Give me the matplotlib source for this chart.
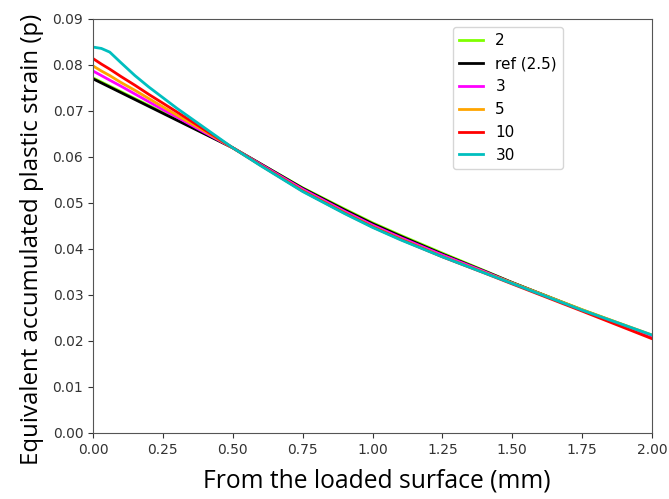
import matplotlib
matplotlib.use("Agg")
import matplotlib.pyplot as plt

x = [0.0, 0.03, 0.06, 0.1, 0.15, 0.2, 0.25, 0.3, 0.4, 0.5,
     0.6, 0.75, 0.9, 1.0, 1.1, 1.25, 1.4, 1.5, 1.75, 2.0]

s_2   = [0.0772, 0.0763, 0.0754, 0.0742, 0.0727, 0.0712, 0.0697, 0.0682, 0.0651, 0.0620,
         0.0585, 0.0533, 0.0487, 0.0457, 0.0430, 0.0391, 0.0353, 0.0327, 0.0268, 0.0212]
s_ref = [0.0770, 0.0761, 0.0752, 0.0740, 0.0725, 0.0710, 0.0695, 0.0680, 0.0650, 0.0620,
         0.0585, 0.0532, 0.0485, 0.0455, 0.0428, 0.0389, 0.0352, 0.0327, 0.0267, 0.0211]
s_3   = [0.0787, 0.0777, 0.0767, 0.0754, 0.0737, 0.0720, 0.0703, 0.0687, 0.0653, 0.0620,
         0.0584, 0.0530, 0.0482, 0.0452, 0.0425, 0.0387, 0.0351, 0.0326, 0.0267, 0.0211]
s_5   = [0.0798, 0.0787, 0.0777, 0.0762, 0.0745, 0.0727, 0.0709, 0.0691, 0.0656, 0.0620,
         0.0582, 0.0527, 0.0479, 0.0449, 0.0422, 0.0384, 0.0349, 0.0326, 0.0268, 0.0213]
s_10  = [0.0814, 0.0802, 0.0791, 0.0775, 0.0756, 0.0736, 0.0717, 0.0698, 0.0659, 0.0620,
         0.0582, 0.0526, 0.0478, 0.0448, 0.0421, 0.0383, 0.0348, 0.0324, 0.0265, 0.0205]
s_30  = [0.0839, 0.0836, 0.0828, 0.0805, 0.0777, 0.0752, 0.0729, 0.0706, 0.0663, 0.0620,
         0.0581, 0.0525, 0.0477, 0.0447, 0.0420, 0.0383, 0.0348, 0.0325, 0.0267, 0.0213]

labels = ["2", "ref (2.5)", "3", "5", "10", "30"]
colors = ["#7fff00", "black", "magenta", "orange", "red", "#00bfbf"]
series = [s_2, s_ref, s_3, s_5, s_10, s_30]

xticks = [0.0, 0.25, 0.5, 0.75, 1.0, 1.25, 1.5, 1.75, 2.0]
yticks = [0.0, 0.01, 0.02, 0.03, 0.04, 0.05, 0.06, 0.07, 0.08, 0.09]

W, H = 669, 499
fig = plt.figure(figsize=(W/100, H/100), dpi=100)
L, R, T, B = 93, 652, 19, 433
ax = fig.add_axes([L/W, 1-B/H, (R-L)/W, (B-T)/H])

for s, lab, c in zip(series, labels, colors):
    ax.plot(x, s, color=c, lw=2, label=lab)

ax.set_xlim(0, 2.0)
ax.set_ylim(0, 0.09)
ax.set_xticks(xticks)
ax.set_yticks(yticks)
ax.set_xticklabels([f"{v:.2f}" for v in xticks])
ax.set_yticklabels([f"{v:.2f}" for v in yticks])
ax.tick_params(labelsize=10, colors="#333333")
for sp in ax.spines.values():
    sp.set_color("#555555")

ax.set_xlabel("From the loaded surface (mm)", fontsize=17.7, family="Open Sans")
ax.xaxis.set_label_coords((376.5-L)/(R-L), (B-468)/(B-T))
ax.set_ylabel("Equivalent accumulated plastic strain (p)", fontsize=17.3, family="Open Sans")
ax.yaxis.set_label_coords((44-L)/(R-L), (B-239)/(B-T))

leg = ax.legend(loc="upper left", bbox_to_anchor=((453-L)/(R-L), (B-27)/(B-T)), fontsize=11,
                handlelength=1.57, labelspacing=0.52, frameon=True, borderaxespad=0)
leg.get_frame().set_edgecolor("#cccccc")

fig.savefig("out.png", dpi=100)
